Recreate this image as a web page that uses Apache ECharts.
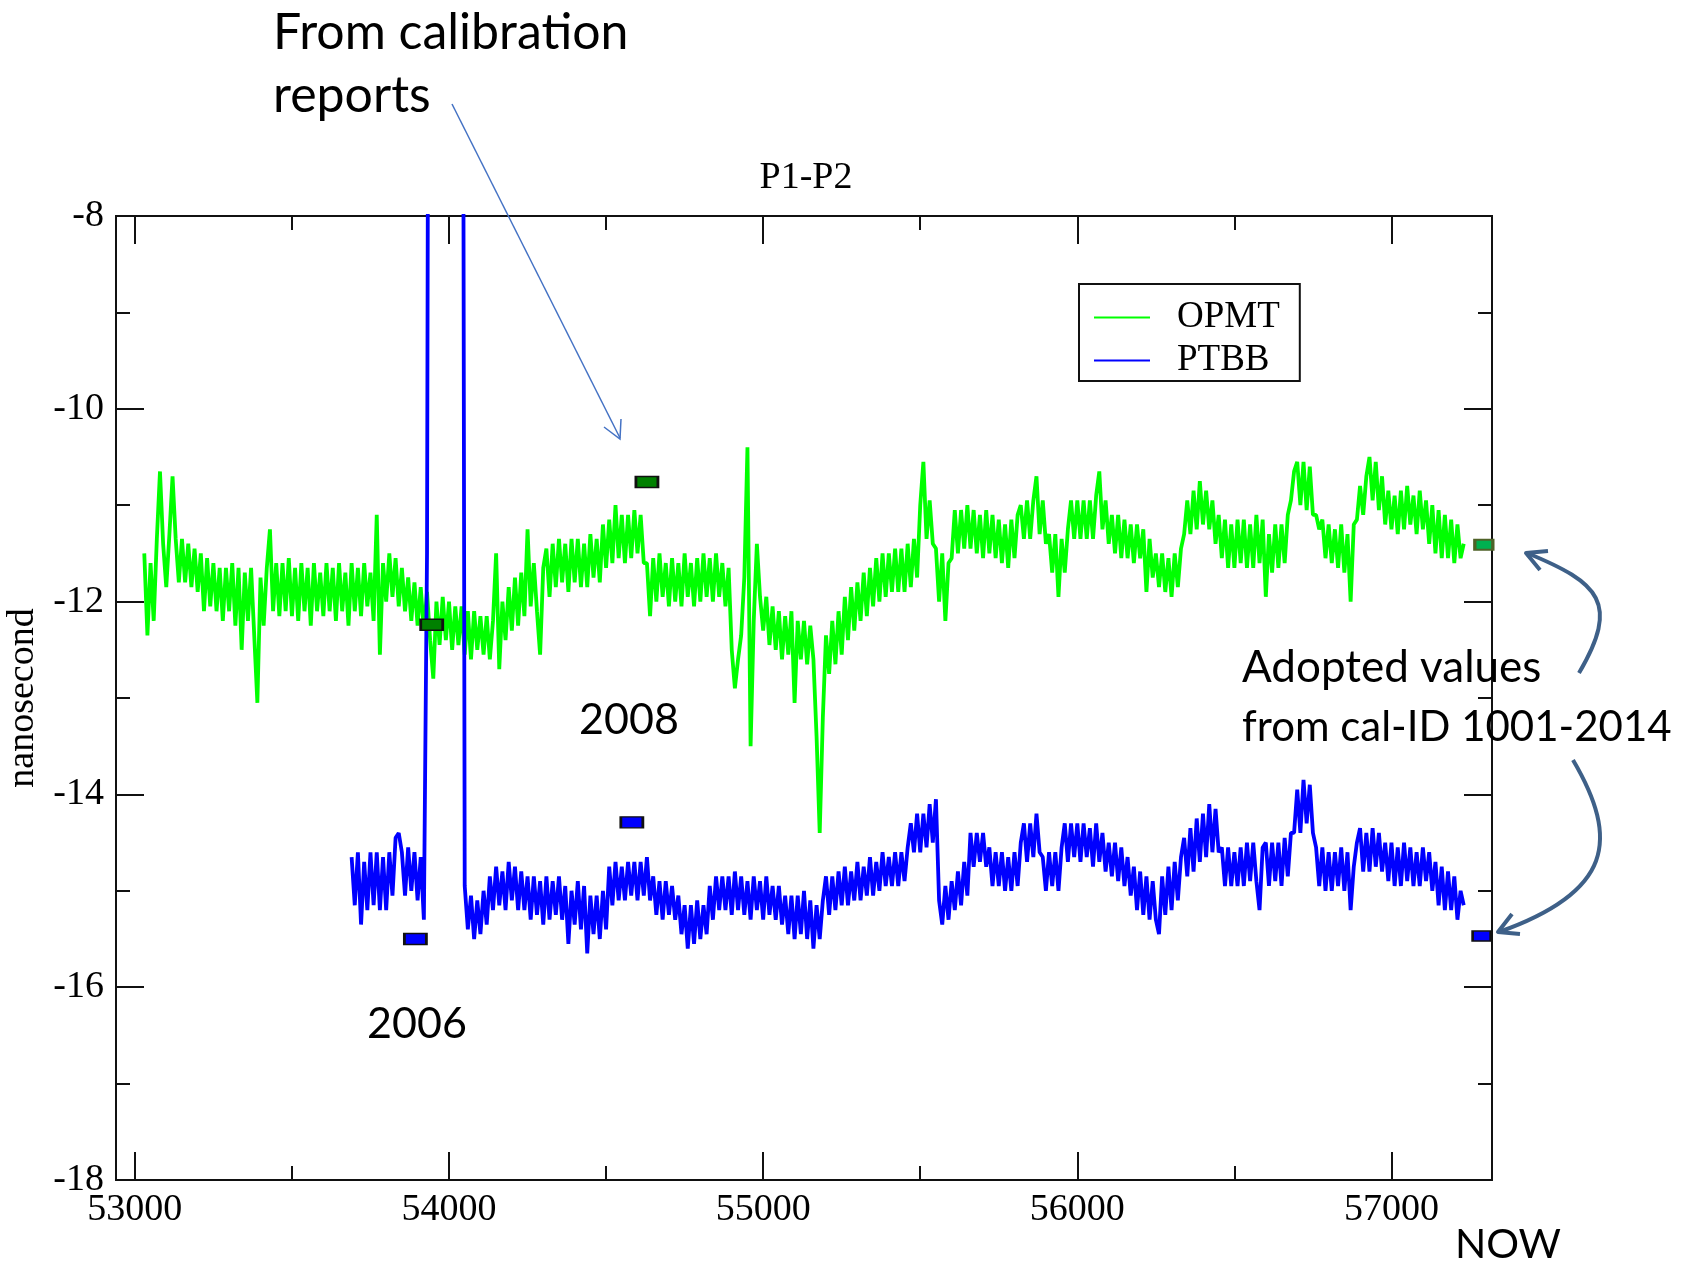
<!DOCTYPE html>
<html>
<head>
<meta charset="utf-8">
<script src="https://cdn.jsdelivr.net/npm/echarts@6/dist/echarts.min.js"></script>
<style>html,body{margin:0;padding:0;background:#fff;}</style>
</head>
<body>
<div id="main" style="width:1685px;height:1263px;"></div>
<script type="text/javascript">

// MJD sampling of the two traces (one point every 10 days)
var dayStep = 10;
var opmtStart = 53030;
var ptbbStart = 53690;

// OPMT P1-P2 (ns), top/bottom of the noisy band, 300 days per row
var opmtValues = [
  -11.5, -12.35, -11.6, -12.2, -11.35, -10.65, -11.4, -11.85, -11.3, -10.7, -11.35, -11.8, -11.35, -11.8, -11.4, -11.85, -11.45, -11.9, -11.5, -12.1, -11.55, -12.05, -11.6, -12.1, -11.65, -12.2, -11.65, -12.1, -11.6, -12.25,
  -11.65, -12.5, -11.7, -12.2, -11.65, -12.35, -13.05, -11.75, -12.25, -11.65, -11.25, -12.1, -11.6, -12.15, -11.6, -12.1, -11.55, -12.15, -11.65, -12.2, -11.6, -12.1, -11.65, -12.25, -11.6, -12.1, -11.7, -12.15, -11.6, -12.1,
  -11.65, -12.2, -11.6, -12.1, -11.7, -12.25, -11.6, -12.1, -11.65, -12.15, -11.6, -12.05, -11.7, -12.2, -11.1, -12.55, -11.6, -12.0, -11.5, -11.95, -11.55, -12.05, -11.65, -12.1, -11.75, -12.2, -11.8, -12.25, -11.85, -12.3,
  -11.9, -12.4, -12.8, -12.0, -12.45, -11.95, -12.4, -12.0, -12.5, -12.05, -12.45, -12.05, -12.55, -12.1, -12.6, -12.1, -12.5, -12.15, -12.55, -12.15, -12.6, -12.2, -11.5, -12.7, -12.0, -12.4, -11.85, -12.3, -11.75, -12.25,
  -11.7, -12.15, -11.25, -12.05, -11.6, -12.1, -12.55, -11.65, -11.45, -11.95, -11.4, -11.85, -11.35, -11.8, -11.4, -11.9, -11.35, -11.8, -11.35, -11.85, -11.4, -11.85, -11.3, -11.75, -11.35, -11.8, -11.2, -11.65, -11.15, -11.6,
  -11.0, -11.55, -11.1, -11.6, -11.1, -11.55, -11.05, -11.5, -11.1, -11.6, -11.6, -12.15, -11.55, -12.0, -11.5, -11.95, -11.6, -12.05, -11.55, -12.0, -11.6, -12.05, -11.5, -11.95, -11.6, -12.05, -11.55, -12.0, -11.5, -11.95,
  -11.55, -12.0, -11.5, -11.95, -11.6, -12.05, -11.65, -12.5, -12.9, -12.6, -12.35, -11.75, -10.4, -13.5, -12.2, -11.4, -11.95, -12.3, -11.95, -12.45, -12.05, -12.5, -12.1, -12.6, -12.15, -12.55, -12.1, -13.05, -12.2, -12.6,
  -12.2, -12.65, -12.25, -12.6, -13.4, -14.4, -13.2, -12.35, -12.75, -12.2, -12.65, -12.1, -12.55, -11.95, -12.4, -11.85, -12.3, -11.8, -12.2, -11.7, -12.15, -11.65, -12.05, -11.55, -12.0, -11.5, -11.95, -11.5, -11.9, -11.45,
  -11.9, -11.45, -11.9, -11.4, -11.85, -11.35, -11.75, -11.0, -10.55, -11.35, -10.95, -11.4, -11.45, -12.0, -11.5, -12.2, -11.6, -11.55, -11.05, -11.5, -11.05, -11.45, -11.0, -11.45, -11.05, -11.5, -11.1, -11.55, -11.05, -11.5,
  -11.1, -11.55, -11.15, -11.6, -11.2, -11.65, -11.15, -11.55, -11.1, -11.0, -11.35, -10.95, -11.35, -10.95, -10.7, -11.3, -10.95, -11.4, -11.3, -11.7, -11.3, -11.95, -11.35, -11.7, -11.25, -10.95, -11.35, -10.95, -11.35, -10.95,
  -11.35, -10.95, -11.35, -10.9, -10.65, -11.25, -10.95, -11.4, -11.1, -11.5, -11.1, -11.55, -11.15, -11.55, -11.2, -11.6, -11.2, -11.55, -11.25, -11.9, -11.35, -11.75, -11.5, -11.85, -11.5, -11.9, -11.55, -11.95, -11.5, -11.85,
  -11.45, -11.3, -10.95, -11.3, -10.85, -11.25, -10.75, -11.2, -10.85, -11.25, -10.95, -11.4, -11.1, -11.55, -11.15, -11.65, -11.2, -11.65, -11.15, -11.6, -11.15, -11.65, -11.2, -11.65, -11.1, -11.6, -11.15, -11.95, -11.3, -11.7,
  -11.2, -11.65, -11.2, -11.6, -11.1, -10.95, -10.65, -10.55, -11.0, -10.55, -11.05, -10.6, -11.1, -11.1, -11.25, -11.15, -11.55, -11.2, -11.6, -11.25, -11.65, -11.2, -11.7, -11.3, -12.0, -11.2, -11.15, -10.8, -11.1, -10.7,
  -10.5, -10.95, -10.55, -11.05, -10.7, -11.2, -10.85, -11.25, -10.9, -11.3, -10.85, -11.25, -10.8, -11.2, -10.9, -11.3, -10.85, -11.25, -10.95, -11.4, -11.0, -11.5, -11.05, -11.55, -11.1, -11.55, -11.15, -11.6, -11.2, -11.55,
  -11.4
];

// PTBB P1-P2 (ns); around MJD 54000 it runs far above the plotted range
var ptbbValues = [
  -14.65, -15.15, -14.6, -15.35, -14.7, -15.2, -14.6, -15.15, -14.6, -15.2, -14.65, -15.2, -14.6, -15.05, -14.45, -14.4, -14.6, -15.05, -14.55, -15.0, -14.6, -15.1, -14.65, -15.3, -11.5, 3, 3, 3, 3, 3,
  3, 3, 3, 3, 3, 3, -14.95, -15.4, -15.05, -15.5, -15.1, -15.45, -15.0, -15.35, -14.85, -15.2, -14.75, -15.15, -14.8, -15.2, -14.7, -15.1, -14.75, -15.2, -14.8, -15.2, -14.85, -15.3, -14.85, -15.25,
  -14.9, -15.35, -14.85, -15.3, -14.9, -15.25, -14.85, -15.3, -14.95, -15.55, -15.0, -15.35, -14.9, -15.4, -14.95, -15.65, -15.05, -15.45, -15.05, -15.5, -15.0, -15.4, -14.75, -15.15, -14.7, -15.1, -14.75, -15.1, -14.7, -15.05,
  -14.7, -15.1, -14.7, -15.05, -14.65, -15.1, -14.85, -15.25, -14.9, -15.3, -14.9, -15.25, -14.95, -15.3, -15.05, -15.45, -15.15, -15.6, -15.15, -15.55, -15.1, -15.5, -15.15, -15.45, -14.95, -15.3, -14.85, -15.2, -14.85, -15.2,
  -14.85, -15.25, -14.8, -15.2, -14.85, -15.25, -14.9, -15.3, -14.85, -15.2, -14.9, -15.3, -14.85, -15.25, -14.95, -15.3, -14.95, -15.35, -15.05, -15.45, -15.05, -15.5, -15.05, -15.45, -15.0, -15.5, -15.1, -15.6, -15.15, -15.5,
  -15.1, -14.85, -15.25, -14.85, -15.2, -14.8, -15.15, -14.75, -15.15, -14.8, -15.1, -14.7, -15.1, -14.75, -15.05, -14.65, -15.05, -14.7, -15.0, -14.6, -14.95, -14.65, -14.95, -14.6, -14.95, -14.6, -14.9, -14.55, -14.3, -14.6,
  -14.2, -14.6, -14.2, -14.55, -14.1, -14.5, -14.05, -15.1, -15.35, -14.95, -15.3, -14.9, -15.2, -14.8, -15.15, -14.7, -15.05, -14.4, -14.75, -14.4, -14.7, -14.4, -14.75, -14.55, -14.95, -14.6, -14.95, -14.6, -15.0, -14.65,
  -15.0, -14.6, -14.95, -14.5, -14.3, -14.7, -14.3, -14.65, -14.2, -14.6, -14.65, -15.0, -14.6, -14.95, -14.6, -15.0, -14.55, -14.3, -14.7, -14.3, -14.65, -14.3, -14.7, -14.3, -14.65, -14.35, -14.75, -14.3, -14.7, -14.4,
  -14.8, -14.5, -14.85, -14.5, -14.9, -14.55, -14.95, -14.65, -15.05, -14.75, -15.2, -14.8, -15.25, -14.85, -15.3, -14.9, -15.3, -15.45, -14.85, -15.25, -14.75, -15.2, -14.7, -15.1, -14.65, -14.45, -14.85, -14.35, -14.8, -14.25,
  -14.7, -14.2, -14.65, -14.1, -14.6, -14.15, -14.6, -14.55, -14.95, -14.55, -14.95, -14.6, -14.95, -14.55, -14.95, -14.5, -14.9, -14.5, -14.9, -15.2, -14.55, -14.5, -14.95, -14.5, -14.9, -14.5, -14.95, -14.45, -14.85, -14.4,
  -14.4, -13.95, -14.4, -13.85, -14.3, -13.9, -14.4, -14.55, -14.95, -14.55, -15.0, -14.6, -15.0, -14.6, -14.95, -14.55, -15.0, -14.6, -15.2, -14.75, -14.5, -14.35, -14.8, -14.4, -14.8, -14.35, -14.75, -14.4, -14.8, -14.5,
  -14.9, -14.5, -14.95, -14.55, -14.95, -14.5, -14.9, -14.55, -14.95, -14.6, -14.95, -14.55, -14.9, -14.6, -15.0, -14.7, -15.15, -14.75, -15.2, -14.8, -15.2, -14.85, -15.3, -15.0, -15.15
];

// calibration report values (2006, 2008) and adopted values
var opmtCalMjd = [53945, 54630];
var opmtCalVal = [-12.24, -10.76];
var ptbbCalMjd = [53893, 54582];
var ptbbCalVal = [-15.5, -14.29];
var opmtAdoptedMjd = [57294];
var opmtAdoptedVal = [-11.41];
var ptbbAdoptedMjd = [57287];
var ptbbAdoptedVal = [-15.47];

var xMajorTicks = [53000, 54000, 55000, 56000, 57000];
var xMinorTicks = [53500, 54500, 55500, 56500];

function series(start, vals) {
  var out = [];
  for (var i = 0; i < vals.length; i++) out.push([start + i * dayStep, vals[i]]);
  return out;
}
function pairs(xs, ys) {
  var out = [];
  for (var i = 0; i < xs.length; i++) out.push([xs[i], ys[i]]);
  return out;
}

var serif = 'Liberation Serif';
var axisBlack = {color: '#111', width: 2};

function xAxisDef(pos, ticks, len, showLabel) {
  return {
    type: 'value', min: 52940, max: 57320, position: pos,
    axisLine: {show: true, onZero: false, lineStyle: axisBlack},
    axisTick: {show: true, inside: true, length: len, customValues: ticks, lineStyle: axisBlack},
    axisLabel: showLabel ? {
      show: true, customValues: ticks, color: '#000', fontFamily: serif, fontSize: 38, margin: 11,
      formatter: function (v) { return String(v); }
    } : {show: false},
    splitLine: {show: false}
  };
}
function yAxisDef(pos, showLabel) {
  var a = {
    type: 'value', min: -18, max: -8, interval: 2, position: pos,
    axisLine: {show: true, onZero: false, lineStyle: axisBlack},
    axisTick: {show: true, inside: true, length: 28, lineStyle: axisBlack},
    minorTick: {show: true, splitNumber: 2, length: 14, lineStyle: axisBlack},
    axisLabel: showLabel ? {show: true, color: '#000', fontFamily: serif, fontSize: 38, margin: 12} : {show: false},
    splitLine: {show: false}
  };
  if (showLabel) {
    a.name = 'nanosecond';
    a.nameLocation = 'middle';
    a.nameRotate = 90;
    a.nameGap = 70;
    a.nameTextStyle = {color: '#000', fontFamily: serif, fontSize: 38};
  }
  return a;
}

var calloutColor = '#3e6088';

var myChart = echarts.init(document.getElementById('main'));

var option = {
  backgroundColor: '#fff',
  animation: false,
  grid: {left: 116, top: 216, width: 1376, height: 964, outerBoundsMode: 'none'},
  legend: {
    data: ['OPMT', 'PTBB'],
    orient: 'vertical',
    left: 1079, top: 284,
    padding: [15, 20, 2, 15],
    itemGap: 6,
    icon: 'rect',
    itemWidth: 56, itemHeight: 2,
    borderColor: '#111', borderWidth: 2,
    backgroundColor: '#fff',
    textStyle: {color: '#000', fontFamily: serif, fontSize: 37, lineHeight: 36, padding: [0, 0, 0, 22]}
  },
  xAxis: [
    xAxisDef('bottom', xMajorTicks, 28, true),
    xAxisDef('bottom', xMinorTicks, 14, false),
    xAxisDef('top', xMajorTicks, 28, false),
    xAxisDef('top', xMinorTicks, 14, false)
  ],
  yAxis: [yAxisDef('left', true), yAxisDef('right', false)],
  series: [
    {
      name: 'OPMT', type: 'line', xAxisIndex: 0, yAxisIndex: 0,
      data: series(opmtStart, opmtValues),
      symbol: 'none', showSymbol: false, clip: true, z: 2,
      lineStyle: {color: '#00ff00', width: 3.8, join: 'bevel'}, itemStyle: {color: '#00ff00'}
    },
    {
      name: 'PTBB', type: 'line', xAxisIndex: 0, yAxisIndex: 0,
      data: series(ptbbStart, ptbbValues),
      symbol: 'none', showSymbol: false, clip: true, z: 3,
      lineStyle: {color: '#0000ff', width: 3.8, join: 'bevel'}, itemStyle: {color: '#0000ff'}
    },
    {
      name: 'OPMT cal', type: 'scatter', data: pairs(opmtCalMjd, opmtCalVal), z: 5,
      symbol: 'rect', symbolSize: [22, 11],
      itemStyle: {color: '#008000', borderColor: '#111', borderWidth: 2, opacity: 1}
    },
    {
      name: 'PTBB cal', type: 'scatter', data: pairs(ptbbCalMjd, ptbbCalVal), z: 5,
      symbol: 'rect', symbolSize: [22, 11],
      itemStyle: {color: '#0000ff', borderColor: '#111', borderWidth: 2, opacity: 1}
    },
    {
      name: 'OPMT adopted', type: 'scatter', data: pairs(opmtAdoptedMjd, opmtAdoptedVal), z: 5,
      symbol: 'rect', symbolSize: [18, 10],
      itemStyle: {color: '#00b050', borderColor: '#4f6228', borderWidth: 2.5, opacity: 1}
    },
    {
      name: 'PTBB adopted', type: 'scatter', data: pairs(ptbbAdoptedMjd, ptbbAdoptedVal), z: 5,
      symbol: 'rect', symbolSize: [18, 10],
      itemStyle: {color: '#0000ff', borderColor: '#111', borderWidth: 2, opacity: 1}
    }
  ],
  graphic: [
    {type: 'text', z: 10, style: {text: 'P1-P2', x: 806, y: 178, align: 'center', verticalAlign: 'middle', font: '38px "Liberation Serif"', fill: '#000'}},
    {type: 'text', z: 10, style: {text: 'From calibration', x: 273, y: 33, align: 'left', verticalAlign: 'middle', font: '50px Lato', fill: '#000'}},
    {type: 'text', z: 10, style: {text: 'reports', x: 273, y: 96, align: 'left', verticalAlign: 'middle', font: '50px Lato', fill: '#000'}},
    {type: 'text', z: 10, style: {text: '2008', x: 629, y: 720, align: 'center', verticalAlign: 'middle', font: '43px Lato', fill: '#000'}},
    {type: 'text', z: 10, style: {text: '2006', x: 417, y: 1024, align: 'center', verticalAlign: 'middle', font: '43px Lato', fill: '#000'}},
    {type: 'text', z: 10, style: {text: 'Adopted values', x: 1242, y: 668, align: 'left', verticalAlign: 'middle', font: '44px Lato', fill: '#000'}},
    {type: 'text', z: 10, style: {text: 'from cal-ID 1001-2014', x: 1242, y: 727, align: 'left', verticalAlign: 'middle', font: '42px Lato', fill: '#000'}},
    {type: 'text', z: 10, style: {text: 'NOW', x: 1508, y: 1245, align: 'center', verticalAlign: 'middle', font: '41px Lato', fill: '#000'}},
    // thin pointer from the calibration-report note
    {type: 'line', z: 10, shape: {x1: 452, y1: 104, x2: 620, y2: 438}, style: {stroke: '#4472c4', lineWidth: 1.5}},
    {type: 'polyline', z: 10, shape: {points: [[604, 427], [620, 439], [621, 419]]}, style: {stroke: '#4472c4', lineWidth: 1.5, fill: null}},
    // curved arrows to the adopted values
    {type: 'bezierCurve', z: 10, shape: {x1: 1579, y1: 673, cpx1: 1620, cpy1: 603, cpx2: 1600, cpy2: 583, x2: 1527, y2: 553}, style: {stroke: calloutColor, lineWidth: 4, fill: null}},
    {type: 'polyline', z: 10, shape: {points: [[1548, 551], [1526, 553], [1540, 570]]}, style: {stroke: calloutColor, lineWidth: 4, fill: null, lineJoin: 'round'}},
    {type: 'bezierCurve', z: 10, shape: {x1: 1573, y1: 760, cpx1: 1620, cpy1: 840, cpx2: 1612, cpy2: 892, x2: 1499, y2: 932}, style: {stroke: calloutColor, lineWidth: 4, fill: null}},
    {type: 'polyline', z: 10, shape: {points: [[1512, 914], [1498, 932], [1520, 934]]}, style: {stroke: calloutColor, lineWidth: 4, fill: null, lineJoin: 'round'}}
  ]
};

myChart.setOption(option);

</script>
</body>
</html>
